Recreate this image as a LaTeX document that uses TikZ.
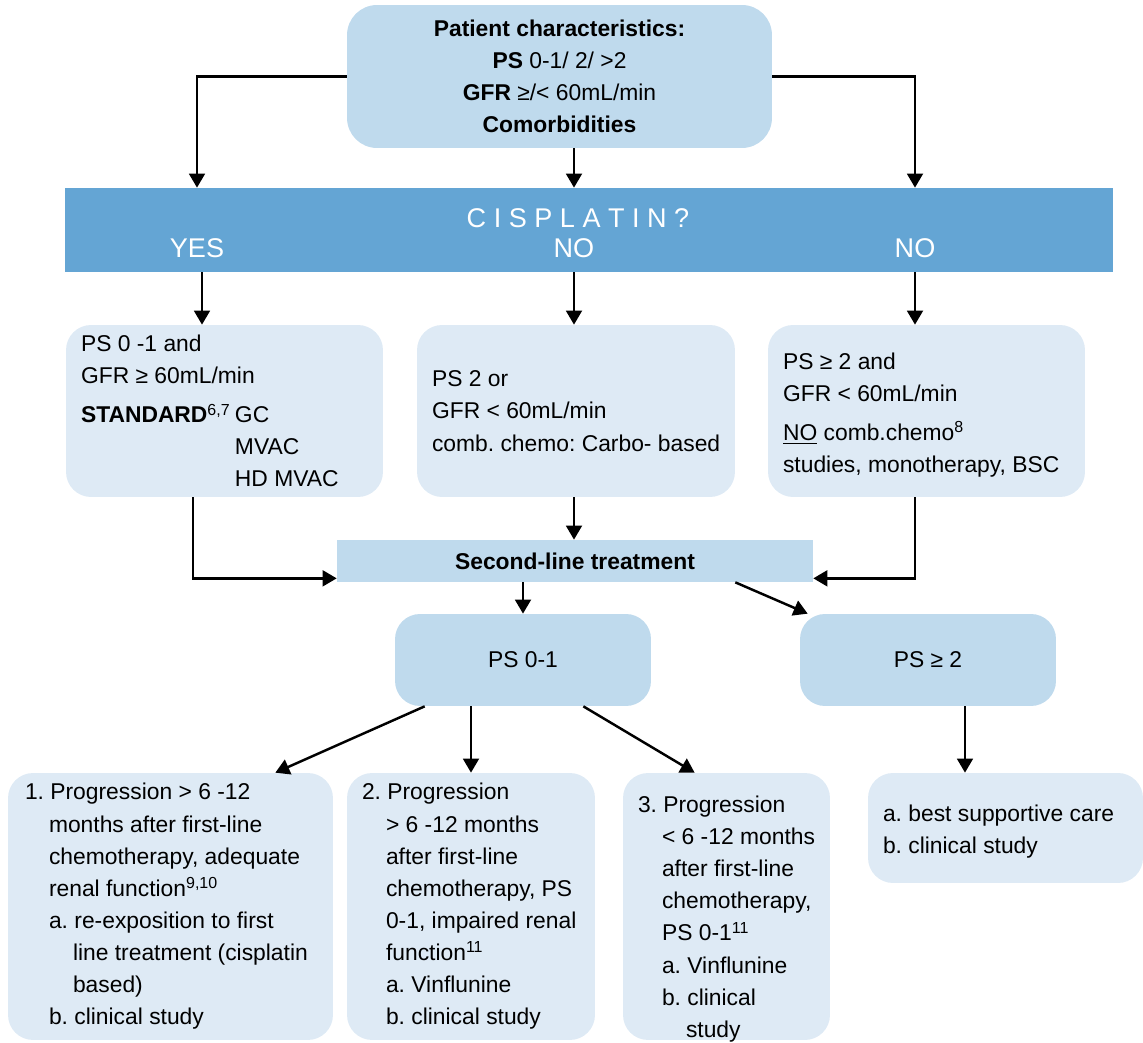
\documentclass[tikz,border=0pt]{standalone}
\usepackage{fontspec}
\setmainfont{Liberation Sans}
\usepackage{tikz}
\usetikzlibrary{positioning,calc,arrows.meta}
\definecolor{BoxBlue}{RGB}{191,218,237}
\definecolor{PaleBlue}{RGB}{222,234,245}
\definecolor{BandBlue}{RGB}{100,165,212}
\newcommand{\ind}{\hspace*{0.48cm}}
\frenchspacing
\tikzset{
    flowarrow/.style={draw=black, line width=1.4pt, -{Triangle[length=8pt,width=9pt]}},
    bodytext/.style={align=left, inner sep=0pt, font=\fontsize{13}{18.3}\selectfont}
}

\begin{document}
\begin{tikzpicture}[
        x=0.02cm, y=-0.02cm,
        % --- BOXES ---
        common/.style={
            draw=none,
            inner sep=0pt,
            rounded corners=0.5cm
        },
        % Dark box (top, second line, PS)
        darkbox/.style={
            common,
            fill=BoxBlue
        },
        % Pale box (options)
        palebox/.style={
            common,
            fill=PaleBlue
        },
        % Band text
        bandtext/.style={
            text=white,
            inner sep=0pt,
            font=\fontsize{15.4}{18}\selectfont
        }
    ]
        \useasboundingbox (0,0) rectangle (1143,1043);

        % --- PATIENT CHARACTERISTICS ---
        \node[darkbox, minimum width=8.5cm, minimum height=2.86cm, rounded corners=0.6cm,
              align=center, font=\fontsize{13}{18.3}\selectfont] (top) at (559.5,76.5)
            {\textbf{Patient characteristics:}\\
             \textbf{PS} 0-1/ 2/ >2\\
             \textbf{GFR} ≥/< 60mL/min\\
             \textbf{Comorbidities}};

        % --- CISPLATIN BAND ---
        \node[fill=BandBlue, inner sep=0pt, minimum width=20.96cm, minimum height=1.68cm] (band) at (589,230) {};
        \node[bandtext] (cisp) at (578,218) {C I S P L A T I N ?};
        \node[bandtext] (yes) at (197,248) {YES};
        \node[bandtext] (no1) at (574,248) {NO};
        \node[bandtext] (no2) at (915,248) {NO};

        % --- FIRST LINE ---
        \node[palebox, minimum width=6.34cm, minimum height=3.44cm] (lbox) at (224.5,411) {};
        \node[bodytext, anchor=west] (lboxt) at ([xshift=0.3cm]lbox.west)
            {PS 0 -1 and\\
             GFR ≥ 60mL/min\\[4pt]
             \makebox[3.08cm][l]{\textbf{STANDARD}\textsuperscript{6,7}}GC\\
             \hspace*{3.08cm}MVAC\\
             \hspace*{3.08cm}HD MVAC};

        \node[palebox, minimum width=6.36cm, minimum height=3.44cm] (mbox) at (576,411) {};
        \node[bodytext, anchor=west] (mboxt) at ([xshift=0.3cm]mbox.west)
            {PS 2 or\\
             GFR < 60mL/min\\
             comb. chemo: Carbo- based};

        \node[palebox, minimum width=6.34cm, minimum height=3.44cm] (rbox) at (926.5,411) {};
        \node[bodytext, anchor=west] (rboxt) at ([xshift=0.3cm, yshift=-0.08cm]rbox.west)
            {PS ≥ 2 and\\
             GFR < 60mL/min\\[4pt]
             \underline{NO} comb.chemo\textsuperscript{8}\\
             studies, monotherapy, BSC};

        % --- SECOND LINE ---
        \node[fill=BoxBlue, inner sep=0pt, minimum width=9.52cm, minimum height=0.84cm,
              font=\fontsize{13}{18.3}\selectfont] (second) at (575,561) {\textbf{Second-line treatment}};

        \node[darkbox, minimum width=5.12cm, minimum height=1.84cm,
              font=\fontsize{13}{18.3}\selectfont] (ps01) at (523,660) {PS 0-1};
        \node[darkbox, minimum width=5.12cm, minimum height=1.84cm,
              font=\fontsize{13}{18.3}\selectfont] (ps2) at (928,660) {PS ≥ 2};

        % --- OPTIONS ---
        \node[palebox, minimum width=6.5cm, minimum height=5.34cm] (b1) at (170.5,906.5) {};
        \node[bodytext, anchor=west] (b1t) at ([xshift=0.34cm]b1.west)
            {1. Progression > 6 -12\\
             \ind months after first-line\\
             \ind chemotherapy, adequate\\
             \ind renal function\textsuperscript{9,10}\\
             \ind a. re-exposition to first\\
             \ind\ind line treatment (cisplatin\\
             \ind\ind based)\\
             \ind b. clinical study};

        \node[palebox, minimum width=4.96cm, minimum height=5.34cm] (b2) at (471,906.5) {};
        \node[bodytext, anchor=west] (b2t) at ([xshift=0.3cm]b2.west)
            {2. Progression\\
             \ind > 6 -12 months\\
             \ind after first-line\\
             \ind chemotherapy, PS\\
             \ind 0-1, impaired renal\\
             \ind function\textsuperscript{11}\\
             \ind a. Vinflunine\\
             \ind b. clinical study};

        \node[palebox, minimum width=4.14cm, minimum height=5.34cm] (b3) at (726.5,906.5) {};
        \node[bodytext, anchor=west] (b3t) at ([xshift=0.3cm, yshift=-0.25cm]b3.west)
            {3. Progression\\
             \ind < 6 -12 months\\
             \ind after first-line\\
             \ind chemotherapy,\\
             \ind PS 0-1\textsuperscript{11}\\
             \ind a. Vinflunine\\
             \ind b. clinical\\
             \ind\ind study};

        \node[palebox, minimum width=5.5cm, minimum height=2.2cm] (b4) at (1005.5,828) {};
        \node[bodytext, anchor=west] (b4t) at ([xshift=0.3cm, yshift=-0.08cm]b4.west)
            {a. best supportive care\\
             b. clinical study};

        % --- ARROWS ---
        \draw[flowarrow] (top.west) -| (yes |- band.north);
        \draw[flowarrow] (no1 |- top.south) -- (no1 |- band.north);
        \draw[flowarrow] (top.east) -| (no2 |- band.north);

        \draw[flowarrow] ([xshift=0.1cm]yes |- band.south) -- ([xshift=0.1cm]yes |- lbox.north);
        \draw[flowarrow] (no1 |- band.south) -- (no1 |- mbox.north);
        \draw[flowarrow] (no2 |- band.south) -- (no2 |- rbox.north);

        \draw[flowarrow] ([xshift=-0.63cm]lbox.south) |- ([yshift=0.08cm]second.south west);
        \draw[flowarrow] (no1 |- mbox.south) -- (no1 |- second.north);
        \draw[flowarrow] ([xshift=-0.23cm]rbox.south) |- ([yshift=0.08cm]second.south east);

        \draw[flowarrow] (ps01.north |- second.south) -- (ps01.north);
        \draw[flowarrow] ([xshift=-1.56cm]second.south east) -- ([xshift=0.16cm]ps2.north west);

        \draw[flowarrow] ([xshift=0.6cm]ps01.south west) -- ([xshift=-1.16cm]b1.north east);
        \draw[flowarrow] (b2.north |- ps01.south) -- (b2.north);
        \draw[flowarrow] ([xshift=-1.36cm]ps01.south east) -- ([xshift=1.44cm]b3.north west);
        \coordinate (ps2x) at ([xshift=0.74cm]ps2.south);
        \draw[flowarrow] (ps2x) -- (ps2x |- b4.north);

    \end{tikzpicture}
\end{document}
